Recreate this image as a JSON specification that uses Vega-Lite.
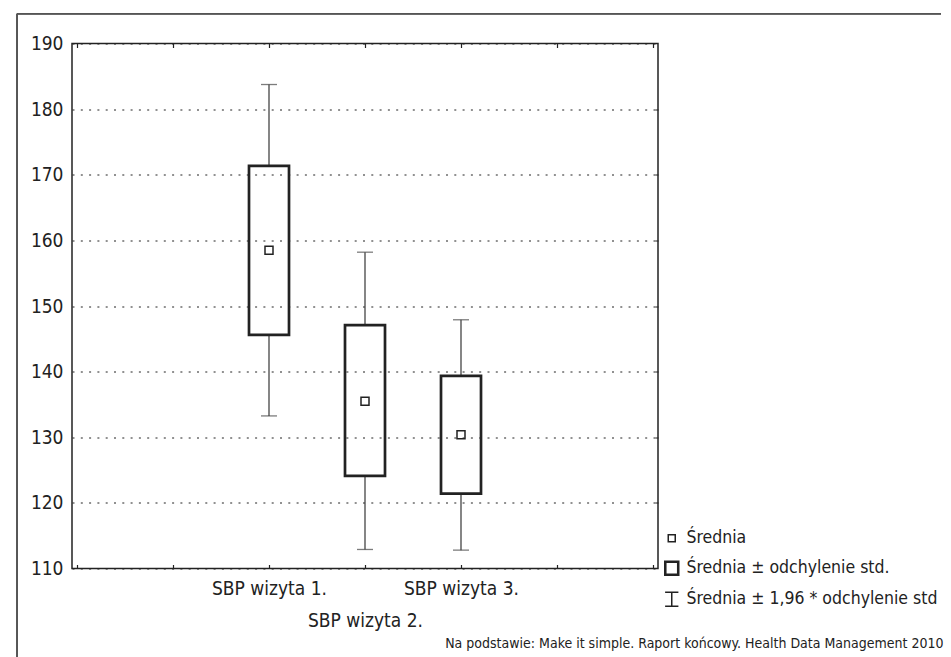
{
  "$schema": "https://vega.github.io/schema/vega-lite/v6.json",
  "autosize": "none",
  "width": 586,
  "height": 525,
  "padding": {"left": 72, "top": 43.5, "right": 293, "bottom": 88.5},
  "background": "white",
  "config": {
    "font": "DejaVu Sans Condensed, Roboto, sans-serif",
    "view": {"stroke": "#222", "strokeWidth": 1.5},
    "axis": {"labelColor": "#222", "labelFont": "DejaVu Sans Condensed, Roboto, sans-serif", "domain": false}
  },
  "data": {
    "values": [
      {"visit": "SBP wizyta 1.", "pos": 2, "stat": "Średnia", "mean": 158.5, "sdLo": 145.6, "sdHi": 171.35, "ciLo": 133.25, "ciHi": 183.75},
      {"visit": "SBP wizyta 2.", "pos": 3, "stat": "Średnia", "mean": 135.5, "sdLo": 124.1, "sdHi": 147.1, "ciLo": 112.9, "ciHi": 158.2},
      {"visit": "SBP wizyta 3.", "pos": 4, "stat": "Średnia", "mean": 130.4, "sdLo": 121.4, "sdHi": 139.35, "ciLo": 112.8, "ciHi": 147.9}
    ]
  },
  "resolve": {"axis": {"x": "independent", "y": "independent"}},
  "layer": [
    {
      "mark": {"type": "rule", "stroke": "#444", "strokeWidth": 1.3},
      "encoding": {
        "x": {"field": "pos", "type": "quantitative", "scale": {"domain": [0, 6], "nice": false, "zero": false},
          "axis": {"values": [0, 1, 2, 3, 4, 5, 6], "tickSize": -4, "tickColor": "#222", "tickWidth": 1.2, "grid": false,
            "labelExpr": "datum.value == 2 ? 'SBP wizyta 1.' : datum.value == 4 ? 'SBP wizyta 3.' : datum.value == 3 ? ['', 'SBP wizyta 2.'] : ''",
            "labelOverlap": false, "labelFlush": false,
            "labelFontSize": 19, "labelPadding": 15, "labelLineHeight": 32, "labelBaseline": "top",
            "title": "Na podstawie: Make it simple. Raport końcowy. Health Data Management 2010",
            "titleFont": "DejaVu Sans Condensed, Roboto, sans-serif", "titleFontSize": 14, "titleFontWeight": "normal", "titleColor": "#222",
            "titleX": 871, "titleY": 75, "titleAlign": "right", "titleAnchor": "end", "titleBaseline": "middle"}},
        "y": {"field": "ciLo", "type": "quantitative", "scale": {"domain": [110, 190], "nice": false, "zero": false},
          "axis": {"title": null, "values": [110, 120, 130, 140, 150, 160, 170, 180, 190], "ticks": false, "labelFontSize": 19, "labelPadding": 9,
            "grid": true, "gridColor": "#222", "gridDash": [2, 6.3], "gridWidth": 1}},
        "y2": {"field": "sdLo"}
      }
    },
    {
      "mark": {"type": "rule", "stroke": "#444", "strokeWidth": 1.3},
      "encoding": {
        "x": {"field": "pos", "type": "quantitative", "scale": {"domain": [0, 6], "nice": false, "zero": false},
          "axis": {"title": null, "orient": "top", "values": [0, 1, 2, 3, 4, 5, 6], "tickSize": -4, "tickColor": "#222", "tickWidth": 1.2, "labels": false, "grid": false}},
        "y": {"field": "sdHi", "type": "quantitative", "scale": {"domain": [110, 190], "nice": false, "zero": false},
          "axis": {"title": null, "orient": "right", "values": [120, 130, 140, 150, 160, 170, 180], "tickSize": -3, "tickColor": "#222", "labels": false, "grid": false}},
        "y2": {"field": "ciHi"}
      }
    },
    {
      "mark": {"type": "tick", "orient": "horizontal", "size": 16, "thickness": 1.3, "color": "#444"},
      "encoding": {
        "x": {"field": "pos", "type": "quantitative", "scale": {"domain": [0, 6], "nice": false, "zero": false}, "axis": null},
        "y": {"field": "ciHi", "type": "quantitative", "scale": {"domain": [110, 190], "nice": false, "zero": false}, "axis": null}
      }
    },
    {
      "mark": {"type": "tick", "orient": "horizontal", "size": 16, "thickness": 1.3, "color": "#444"},
      "encoding": {
        "x": {"field": "pos", "type": "quantitative", "scale": {"domain": [0, 6], "nice": false, "zero": false}, "axis": null},
        "y": {"field": "ciLo", "type": "quantitative", "scale": {"domain": [110, 190], "nice": false, "zero": false}, "axis": null}
      }
    },
    {
      "mark": {"type": "bar", "size": 40, "fill": "transparent", "stroke": "#222", "strokeWidth": 2.7},
      "encoding": {
        "x": {"field": "pos", "type": "quantitative", "scale": {"domain": [0, 6], "nice": false, "zero": false}, "axis": null},
        "y": {"field": "sdLo", "type": "quantitative", "scale": {"domain": [110, 190], "nice": false, "zero": false}, "axis": null},
        "y2": {"field": "sdHi"}
      }
    },
    {
      "mark": {"type": "point", "filled": false, "size": 256, "color": "#222", "strokeWidth": 1.5, "opacity": 1},
      "encoding": {
        "x": {"field": "pos", "type": "quantitative", "scale": {"domain": [0, 6], "nice": false, "zero": false}, "axis": null},
        "y": {"field": "mean", "type": "quantitative", "scale": {"domain": [110, 190], "nice": false, "zero": false}, "axis": null},
        "shape": {
          "field": "stat",
          "type": "nominal",
          "scale": {
            "domain": ["Średnia", "Średnia ± odchylenie std.", "Średnia ± 1,96 * odchylenie std"],
            "range": ["M-0.5,-0.5H0.5V0.5H-0.5Z", "M-1,-1H1V1H-1ZM-0.85,-0.85V0.85H0.85V-0.85Z", "M-0.95,-1H0.95M0,-1V1M-0.95,1H0.95"]
          },
          "legend": {
            "title": null,
            "orient": "none",
            "legendX": 591,
            "legendY": 486,
            "padding": 0,
            "symbolSize": 196,
            "symbolStrokeColor": "#222",
            "symbolStrokeWidth": 1.5,
            "labelFontSize": 17.5,
            "labelColor": "#222",
            "labelFont": "DejaVu Sans Condensed, Roboto, sans-serif",
            "labelOffset": 6,
            "labelLimit": 400,
            "rowPadding": 10
          }
        }
      }
    },
    {
      "mark": {"type": "rule", "stroke": "#555", "strokeWidth": 1.5},
      "encoding": {
        "x": {"datum": -0.6246, "type": "quantitative", "scale": {"domain": [0, 6], "nice": false, "zero": false}, "axis": null},
        "x2": {"datum": 9},
        "y": {"datum": 194.55, "type": "quantitative", "scale": {"domain": [110, 190], "nice": false, "zero": false}, "axis": null}
      }
    },
    {
      "mark": {"type": "rule", "stroke": "#555", "strokeWidth": 1.5},
      "encoding": {
        "x": {"datum": -0.6246, "type": "quantitative", "scale": {"domain": [0, 6], "nice": false, "zero": false}, "axis": null},
        "y": {"datum": 194.55, "type": "quantitative", "scale": {"domain": [110, 190], "nice": false, "zero": false}, "axis": null},
        "y2": {"datum": 96.5}
      }
    }
  ]
}
